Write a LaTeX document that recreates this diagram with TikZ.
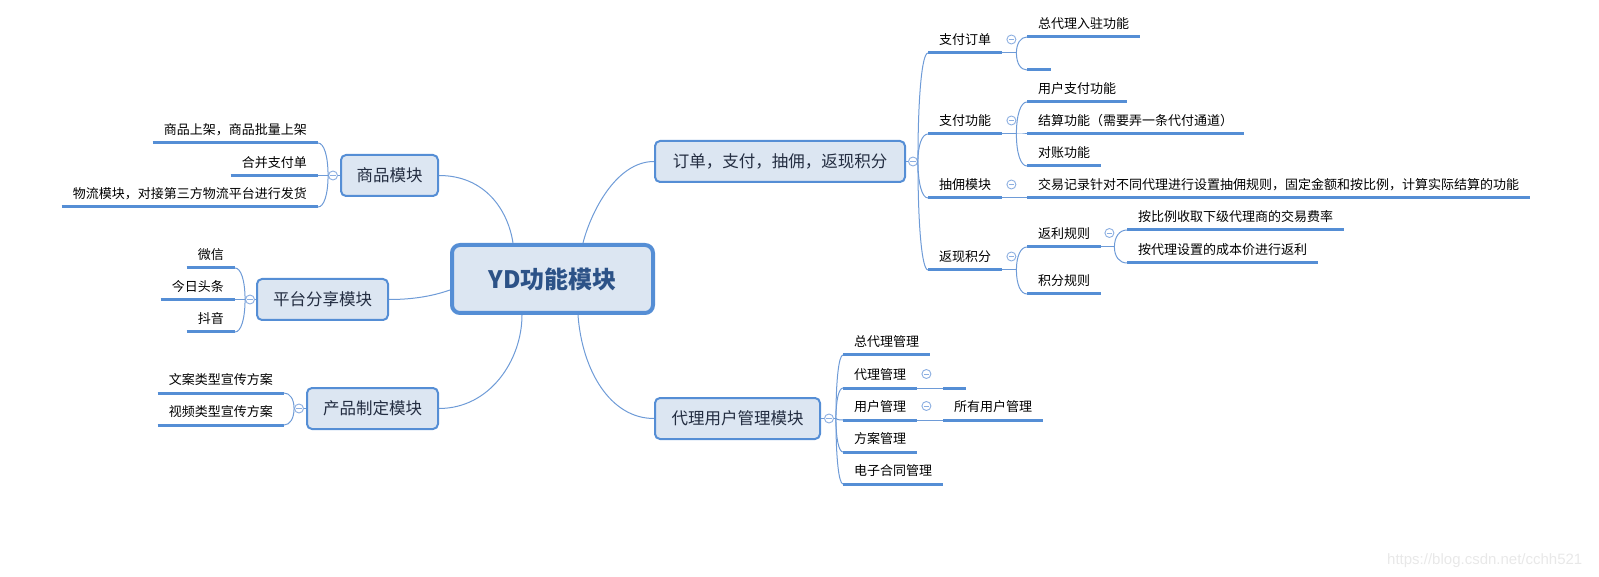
\documentclass[tikz,border=0pt]{standalone}
\usepackage{fontspec}
\setmainfont{Noto Sans CJK SC}
\newfontfamily\wmfont{Liberation Sans}
\usetikzlibrary{calc,backgrounds}
\definecolor{lb}{RGB}{85,142,213}
\definecolor{cl}{RGB}{110,155,215}
\definecolor{boxfill}{RGB}{220,230,242}
\definecolor{tg}{RGB}{140,175,225}
\definecolor{maintext}{RGB}{35,45,65}
\definecolor{roottext}{RGB}{44,82,135}
\definecolor{wm}{RGB}{232,232,232}
\newcommand\mmlink[2]{\draw[conn] (#1) .. controls ($(#1)!0.6!(#1|-#2)$) and ($(#2)!0.6!(#1|-#2)$) .. (#2);}
\tikzset{
 conn/.style={draw=cl, line width=1pt},
 uline/.style={draw=lb, line width=3pt},
 leaf/.style={font=\fontsize{13}{15}\selectfont, text=black, text height=10pt, text depth=3pt, inner xsep=11pt, inner ysep=5pt, append after command={(\tikzlastnode.south west) edge[uline] (\tikzlastnode.south east)}},
 mainbox/.style={draw=lb, line width=2pt, fill=boxfill, rounded corners=5pt, font=\fontsize{16.5}{19}\selectfont, text=maintext, minimum height=41pt, inner sep=0pt},
 rootbox/.style={draw=lb, line width=4pt, fill=boxfill, rounded corners=8pt, font=\fontsize{24}{28}\selectfont\bfseries, text=roottext, minimum width=201pt, minimum height=68pt, inner sep=0pt},
 tog/.style={circle, draw=tg, line width=0.9pt, fill=white, minimum size=9pt, inner sep=0pt, path picture={\draw[tg, line width=0.9pt] ([xshift=-2.6pt]path picture bounding box.center) -- ([xshift=2.6pt]path picture bounding box.center);}},
}
\begin{document}
\begin{tikzpicture}[x=1pt,y=-1pt]
\useasboundingbox (0,0) rectangle (1599,577);
% root
\node[rootbox] (root) at (552.5,279) {YD功能模块};
% main boxes
\node[mainbox, minimum width=97pt] (sp) at (389.5,175.5) {商品模块};
\node[mainbox, minimum width=131pt] (pt) at (322.5,299.5) {平台分享模块};
\node[mainbox, minimum width=131pt] (cp) at (372.5,408.5) {产品制定模块};
\node[mainbox, minimum width=250pt] (dd) at (780,161.5) {订单，支付，抽佣，返现积分};
\node[mainbox, minimum width=165pt] (dl) at (737.5,418.5) {代理用户管理模块};
% root connectors
\begin{scope}[on background layer]
\draw[conn] ($(root.north)+(-39.5,0)$) .. controls (508,210) and (485,175.5) .. (sp.east);
\draw[conn] ($(root.north)+(30.5,0)$) .. controls (590,215) and (615,161.5) .. (dd.west);
\draw[conn] ($(root.west)+(0,11)$) .. controls (430,297) and (410,299.5) .. (pt.east);
\draw[conn] ($(root.south)+(-30.5,0)$) .. controls (522,360) and (490,408.5) .. (cp.east);
\draw[conn] ($(root.south)+(25.5,0)$) .. controls (582,370) and (610,418.5) .. (dl.west);
\end{scope}
% toggles of main boxes
\node[tog] (sp-t) at ($(sp.west)+(-7,0)$) {};
\node[tog] (pt-t) at ($(pt.west)+(-6,0)$) {};
\node[tog] (cp-t) at ($(cp.west)+(-7,0)$) {};
\node[tog] (dd-t) at ($(dd.east)+(7,0)$) {};
\node[tog] (dl-t) at ($(dl.east)+(8,0)$) {};
\draw[conn] (sp.west) -- (sp-t.east);
\draw[conn] (pt.west) -- (pt-t.east);
\draw[conn] (cp.west) -- (cp-t.east);
\draw[conn] (dd.east) -- (dd-t.west);
\draw[conn] (dl.east) -- (dl-t.west);
% 商品模块 children
\node[leaf, anchor=south east] (sp1) at (318,143) {商品上架，商品批量上架};
\node[leaf, anchor=south east] (sp2) at (318,175.5) {合并支付单};
\node[leaf, anchor=south east] (sp3) at (318,207) {物流模块，对接第三方物流平台进行发货};
\mmlink{sp-t.west}{sp1.south east}
\mmlink{sp-t.west}{sp2.south east}
\mmlink{sp-t.west}{sp3.south east}
% 平台分享模块 children
\node[leaf, anchor=south east] (pt1) at (235,268) {微信};
\node[leaf, anchor=south east] (pt2) at (235,299.5) {今日头条};
\node[leaf, anchor=south east] (pt3) at (235,332) {抖音};
\mmlink{pt-t.west}{pt1.south east}
\mmlink{pt-t.west}{pt2.south east}
\mmlink{pt-t.west}{pt3.south east}
% 产品制定模块 children
\node[leaf, anchor=south east] (cp1) at (284,393) {文案类型宣传方案};
\node[leaf, anchor=south east] (cp2) at (284,425) {视频类型宣传方案};
\mmlink{cp-t.west}{cp1.south east}
\mmlink{cp-t.west}{cp2.south east}
% 订单 children
\node[leaf, anchor=south west] (z1) at (928,53) {支付订单};
\node[leaf, anchor=south west] (z2) at (928,134) {支付功能};
\node[leaf, anchor=south west] (z3) at (928,198) {抽佣模块};
\node[leaf, anchor=south west] (z4) at (928,270) {返现积分};
\mmlink{dd-t.east}{z1.south west}
\mmlink{dd-t.east}{z2.south west}
\mmlink{dd-t.east}{z3.south west}
\mmlink{dd-t.east}{z4.south west}
\node[tog] (z1-t) at ($(z1.south east)+(9,-13.5)$) {};
\node[tog] (z2-t) at ($(z2.south east)+(9,-13.5)$) {};
\node[tog] (z3-t) at ($(z3.south east)+(9,-13.5)$) {};
\node[tog] (z4-t) at ($(z4.south east)+(9,-13.5)$) {};
% level 3
\node[leaf, anchor=south west] (z1a) at (1027,37) {总代理入驻功能};
\node[leaf, anchor=south west, minimum width=24pt] (z1b) at (1027,70) {};
\node[leaf, anchor=south west] (z2a) at (1027,102) {用户支付功能};
\node[leaf, anchor=south west] (z2b) at (1027,134) {结算功能（需要弄一条代付通道）};
\node[leaf, anchor=south west] (z2c) at (1027,166) {对账功能};
\node[leaf, anchor=south west] (z3a) at (1027,198) {交易记录针对不同代理进行设置抽佣规则，固定金额和按比例，计算实际结算的功能};
\node[leaf, anchor=south west] (z4a) at (1027,247) {返利规则};
\node[leaf, anchor=south west] (z4b) at (1027,294) {积分规则};
\coordinate (z1-s) at ($(z1.south east)+(14,0)$);
\coordinate (z2-s) at ($(z2.south east)+(14,0)$);
\coordinate (z4-s) at ($(z4.south east)+(14,0)$);
\draw[conn] (z1.south east) -- (z1-s);
\draw[conn] (z2.south east) -- (z2-s);
\draw[conn] (z4.south east) -- (z4-s);
\mmlink{z1-s}{z1a.south west}
\mmlink{z1-s}{z1b.south west}
\mmlink{z2-s}{z2a.south west}
\mmlink{z2-s}{z2b.south west}
\mmlink{z2-s}{z2c.south west}
\draw[conn] (z3.south east) -- (z3a.south west);
\mmlink{z4-s}{z4a.south west}
\mmlink{z4-s}{z4b.south west}
% level 4
\node[tog] (z4a-t) at ($(z4a.south east)+(8,-14)$) {};
\node[leaf, anchor=south west] (z4a1) at (1127,230) {按比例收取下级代理商的交易费率};
\node[leaf, anchor=south west] (z4a2) at (1127,263) {按代理设置的成本价进行返利};
\coordinate (z4a-s) at ($(z4a.south east)+(13,0)$);
\draw[conn] (z4a.south east) -- (z4a-s);
\mmlink{z4a-s}{z4a1.south west}
\mmlink{z4a-s}{z4a2.south west}
% 代理用户管理模块 children
\node[leaf, anchor=south west] (d1) at (843,355) {总代理管理};
\node[leaf, anchor=south west] (d2) at (843,388) {代理管理};
\node[leaf, anchor=south west] (d3) at (843,420) {用户管理};
\node[leaf, anchor=south west] (d4) at (843,452) {方案管理};
\node[leaf, anchor=south west] (d5) at (843,484) {电子合同管理};
\coordinate (dl-s) at ($(dl-t.east)+(2,0)$);
\draw[conn] (dl-t.east) -- (dl-s);
\mmlink{dl-s}{d1.south west}
\mmlink{dl-s}{d2.south west}
\mmlink{dl-s}{d3.south west}
\mmlink{dl-s}{d4.south west}
\mmlink{dl-s}{d5.south west}
\node[tog] (d2-t) at ($(d2.south east)+(9,-14)$) {};
\node[tog] (d3-t) at ($(d3.south east)+(9,-14)$) {};
\node[leaf, anchor=south west, minimum width=23pt] (d2a) at (943,388) {};
\node[leaf, anchor=south west] (d3a) at (943,420) {所有用户管理};
\draw[conn] (d2.south east) -- (d2a.south west);
\draw[conn] (d3.south east) -- (d3a.south west);
% watermark
\node[font=\wmfont\fontsize{15}{18}\selectfont, text=wm, anchor=base west, inner sep=0pt] (wmk) at (1387,564) {https://blog.csdn.net/cchh521};
\end{tikzpicture}
\end{document}
